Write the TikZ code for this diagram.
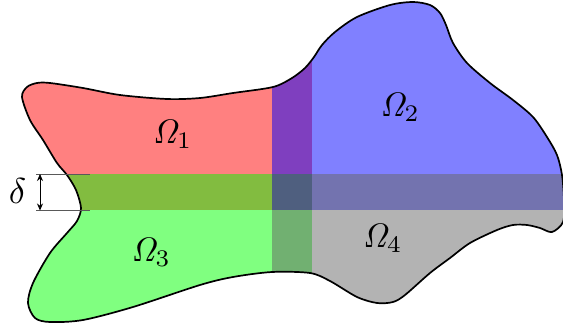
\documentclass[tikz,border=0pt]{standalone}
\usepackage{graphicx}
\usetikzlibrary{arrows.meta}
\definecolor{cRed}{HTML}{FF8080}
\definecolor{cBlue}{HTML}{8080FF}
\definecolor{cGreen}{HTML}{80FF80}
\definecolor{cGray}{HTML}{B3B3B3}
\definecolor{cPurple}{HTML}{7F3FBF}
\definecolor{cOlive}{HTML}{82BC40}
\definecolor{cDark}{HTML}{4F5F7F}
\definecolor{cSlate}{HTML}{7373AF}
\definecolor{cSage}{HTML}{71B071}
\newcommand{\biglab}[1]{\scalebox{3.4}{$#1$}}
\begin{document}
\begin{tikzpicture}[x=1pt,y=-1pt,
  outline/.style={line width=1.7pt, draw=black},
  lab/.style={inner sep=0pt},
  guide/.style={line width=1pt, draw=black!65},
  dimarrow/.style={line width=0.8pt, draw=black, {Stealth[length=7pt,width=6pt]}-{Stealth[length=7pt,width=6pt]}}
]
\useasboundingbox (0,0) rectangle (563,327);
\path[save path=\outlinepath] plot[smooth cycle, tension=0.5] coordinates {
 (22,97) (27,87) (37,83) (50,83) (83,88) (120,95) (167,99) (200,98) (233,93)
 (273,87) (292,78) (305,68) (314,57) (322,45) (335,32) (357,17) (390,5) (413,2) (430,5)
 (440,13) (446,25) (453,43) (467,63) (490,83) (513,100) (533,117) (547,137)
 (557,155) (562,175) (564,200) (563,222) (552,232) (540,228) (527,225) (513,225)
 (497,230) (470,243) (450,258) (430,273) (405,295) (393,302) (377,303) (357,297)
 (330,281) (310,273) (272,272) (233,277) (200,285) (133,307) (83,320) (50,322)
 (35,318) (28,303) (33,283) (50,253) (67,233) (77,221) (81,208) (76,190) (67,175)
 (57,163) (43,140) (30,120)};
\begin{scope}
  \clip[use path=\outlinepath];
  \fill[cRed]    (0,0)     rectangle (272,174);
  \fill[cPurple] (272,0)   rectangle (312,174);
  \fill[cBlue]   (312,0)   rectangle (600,174);
  \fill[cOlive]  (0,174)   rectangle (272,210);
  \fill[cDark]   (272,174) rectangle (312,210);
  \fill[cSlate]  (312,174) rectangle (600,210);
  \fill[cGreen]  (0,210)   rectangle (272,340);
  \fill[cSage]   (272,210) rectangle (312,340);
  \fill[cGray]   (312,210) rectangle (600,340);
\end{scope}
\draw[outline, use path=\outlinepath];
% delta annotation
\coordinate (g1a) at (36,174);
\coordinate (g1b) at (90,174);
\coordinate (g2a) at (36,210.5);
\coordinate (g2b) at (90,210.5);
\coordinate (ar1) at (40,174);
\coordinate (ar2) at (40,210.5);
\draw[guide] (g1a) -- (g1b);
\draw[guide] (g2a) -- (g2b);
\draw[dimarrow] (ar1) -- (ar2);
\node[lab] (delta) at (17.5,190.5) {\scalebox{3.6}{$\delta$}};
% labels
\node[lab] (o1) at (172.5,134.5) {\biglab{\mathit{\Omega}_1}};
\node[lab] (o2) at (400,107) {\biglab{\mathit{\Omega}_2}};
\node[lab] (o3) at (151,252) {\biglab{\mathit{\Omega}_3}};
\node[lab] (o4) at (382.5,238.5) {\biglab{\mathit{\Omega}_4}};
\end{tikzpicture}
\end{document}
